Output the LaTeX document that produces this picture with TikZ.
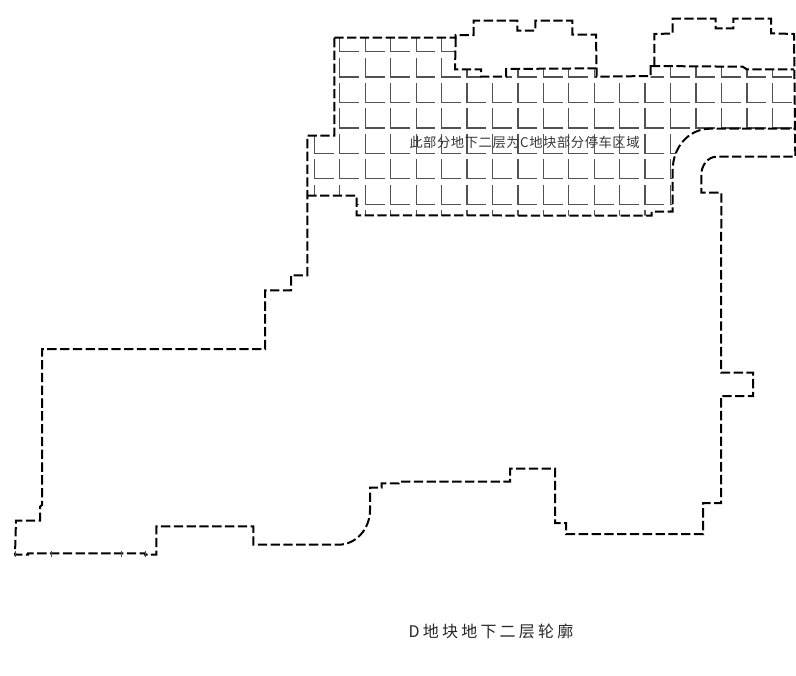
\documentclass[tikz,border=0pt]{standalone}
\usepackage{fontspec}
\newfontfamily\cjkone[LetterSpace=4]{Noto Sans CJK SC}
\newfontfamily\cjktwo[LetterSpace=20]{Noto Sans CJK SC}
\tikzset{
  px/.style={x=0.75pt,y=-0.75pt},
  contour/.style={draw=black,line width=1.5pt,dash pattern=on 7pt off 2.6pt,line join=miter},
  stall/.style={draw=black!68,line width=0.95pt},
  tick/.style={draw=black!70,line width=0.6pt},
  areatext/.style={inner sep=0pt,text=black!78,font=\cjkone\fontsize{10pt}{11pt}\selectfont},
  titletext/.style={inner sep=0pt,text=black!85,font=\cjktwo\fontsize{12pt}{13pt}\selectfont}
}
\begin{document}
\begin{tikzpicture}[px]
\useasboundingbox (0,0) rectangle (796,675);
\fill[white] (0,0) rectangle (796,675);
% stalls, clipped to the shared-parking zone
\begin{scope}
\clip (334.3,37.7) -- (455.3,37.7) -- (455.3,69.3) -- (481,69.3) -- (481,78) -- (506,78) -- (506,69.3) -- (596.3,69.3) -- (596.7,78) -- (650.7,78) -- (650.7,66.3) -- (742.7,66.7) -- (746.7,69.3) -- (794.5,69.3) -- (794.5,129) -- (710,129) .. controls (689,129) and (672.7,149) .. (672.7,170) -- (672.7,211.7) -- (651.7,211.7) -- (651.7,215.7) -- (356.5,215.7) -- (356.5,195.7) -- (307.3,195.7) -- (307.3,135.7) -- (334.3,135.7) -- cycle;
\foreach \cx in {0,...,19}{
  \foreach \cy in {0,...,7}{
    \pgfmathsetmacro{\xx}{314.4+25.44*\cx}
    \pgfmathsetmacro{\yy}{51.7+25.42*\cy}
    \draw[stall] (\xx,\yy-19.5) -- (\xx,\yy) -- (\xx+19.3,\yy);
  }
}
\end{scope}
% outer outline
\draw[contour] (334.3,37.7) -- (455.7,37.7) -- (455.7,35) -- (473.7,35) -- (473.7,20.7) -- (517.3,20.7) -- (517.3,30.7) -- (535.3,30.7) -- (535.3,20.7) -- (572.3,20.7) -- (572.3,34.7) -- (596,34.7) -- (596.7,76.7) -- (650.7,76) -- (650.7,66) -- (654.3,66) -- (654.3,34) -- (672.7,33.5) -- (672.7,18.7) -- (715.7,18.7) -- (715.7,28.3) -- (733.3,28.3) -- (733.3,18.7) -- (771,18.7) -- (771,33.3) -- (794,34) -- (795.3,156.7) -- (716.7,156.7) .. controls (708,156.7) and (701.3,165) .. (701.3,175) -- (701.3,192.7) -- (721.3,192.7) -- (721,372.7) -- (753,372.7) -- (753,396) -- (721,396) -- (721,503) -- (703,503) -- (703,534) -- (566,534) -- (566,523) -- (555,523) -- (555,468.7) -- (510,468.7) -- (510,481.7) -- (398.7,481.7) -- (398.7,483.3) -- (381.7,483.3) -- (381.7,487.7) -- (370,487.7) -- (370,510) .. controls (370,529) and (356,544.7) .. (338.3,544.7) -- (253.3,544.7) -- (253.3,526.3) -- (156.3,526.3) -- (156.3,554.7) -- (145,554.7) -- (145,553.3) -- (28,553.3) -- (28,554.7) -- (15,554.7) -- (16,520.7) -- (40,520.7) -- (40,506.7) -- (42,505) -- (42,349) -- (265,349) -- (265,290.3) -- (291,290.3) -- (291,275.3) -- (307.3,275.3) -- (307.3,135.7) -- (334.3,135.7) -- cycle;
% zone boundary, lower side
\draw[contour] (307.3,195.7) -- (356.7,195.7) -- (356.7,215.3) -- (651.7,215.7) -- (651.7,211.7) -- (672.7,211.7) -- (672.7,170) .. controls (672.7,147) and (689,128.7) .. (710,128.7) -- (795.3,128.7);
% zone boundary, upper side
\draw[contour] (455.7,37.7) -- (455,69.3) -- (481,69.3) -- (481,76.7) -- (506,76.7) -- (506,69) -- (596,68.3);
\draw[contour] (650.7,66) -- (742.7,66.7) -- (746.7,69.3) -- (794,69.3);
% ticks on the lower edge
\foreach \tx in {15,51.7,121.7,145}{
  \draw[tick] (\tx,551) -- (\tx,557);
}
\node[areatext,anchor=center] (zonelabel) at (524.5,142) {此部分地下二层为C地块部分停车区域};
\node[titletext,anchor=center] (title) at (491,631) {D地块地下二层轮廓};
\end{tikzpicture}
\end{document}
